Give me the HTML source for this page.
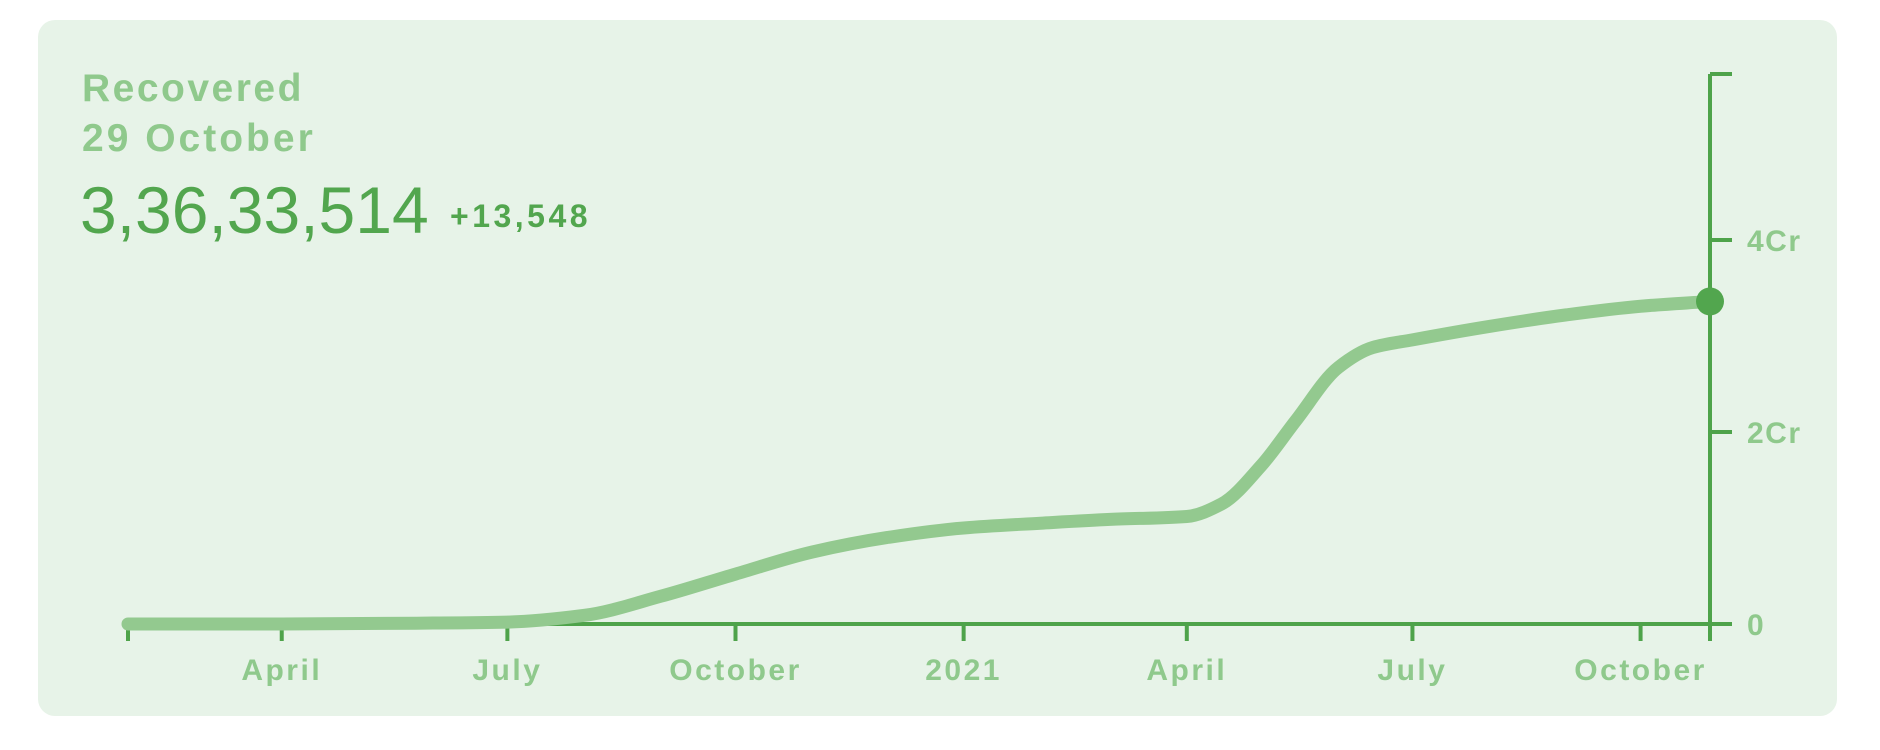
<!DOCTYPE html>
<html><head><meta charset="utf-8">
<style>
html,body{margin:0;padding:0;background:#fff;width:1880px;height:750px;overflow:hidden;font-family:"Liberation Sans",sans-serif;}
.card{position:absolute;left:38px;top:20px;width:1799px;height:696px;background:#e7f3e8;border-radius:17px;}
.t{position:absolute;white-space:nowrap;}
</style></head><body>
<div class="card"></div>
<div class="t" style="left:82px;top:67px;font-size:39px;font-weight:bold;color:#8fc98c;letter-spacing:2.5px;">Recovered</div>
<div class="t" style="left:82px;top:117px;font-size:39px;font-weight:bold;color:#8fc98c;letter-spacing:3px;">29 October</div>
<div class="t" style="left:80px;top:172px;font-size:66px;color:#52a64e;letter-spacing:0px;">3,36,33,514</div>
<div class="t" style="left:450px;top:198px;font-size:32px;font-weight:bold;color:#52a64e;letter-spacing:3.5px;">+13,548</div>
<svg id="chart" width="1880" height="750" style="position:absolute;left:0;top:0"></svg>
<script>
const dates = ["2020-01-30","2020-04-01","2020-06-01","2020-07-01","2020-08-01","2020-09-01","2020-10-01","2020-11-01","2020-12-01","2021-01-01","2021-02-01","2021-03-01","2021-04-01","2021-04-15","2021-05-01","2021-05-15","2021-06-01","2021-06-15","2021-07-01","2021-08-01","2021-09-01","2021-10-01","2021-10-29"];
const values = [0,0,0.01,0.02,0.09,0.29,0.52,0.75,0.9,1.0,1.05,1.09,1.12,1.25,1.65,2.12,2.67,2.88,2.96,3.10,3.22,3.31,3.36];
const xTickDates = ["2020-04-01","2020-07-01","2020-10-01","2021-01-01","2021-04-01","2021-07-01","2021-10-01"];
const xTickLabels = ["April","July","October","2021","April","July","October"];
const yTicks = [0,2,4];
const yTickLabels = ["0","2Cr","4Cr"];

const NS="http://www.w3.org/2000/svg";
const svg=document.getElementById('chart');
const d0=Date.parse("2020-01-30"), d1=Date.parse("2021-10-29");
const X0=128,X1=1710,Y0=624,pxPerCr=96;
const x=d=>X0+(Date.parse(d)-d0)/(d1-d0)*(X1-X0);
const y=v=>Y0-v*pxPerCr;
function mk(tag,attrs){const e=document.createElementNS(NS,tag);for(const k in attrs)e.setAttribute(k,attrs[k]);svg.appendChild(e);return e;}
const AX="#4ea34a",LB="#8fc98c";
let e=mk('line',{x1:X0,y1:Y0,x2:X1,y2:Y0,stroke:AX,'stroke-width':4});


e=mk('line',{x1:X0,y1:Y0,x2:X0,y2:Y0+17,stroke:AX,'stroke-width':4});


xTickDates.forEach((d,i)=>{
  const t=mk('line',{x1:x(d),y1:Y0,x2:x(d),y2:Y0+17,stroke:AX,'stroke-width':4});
  
  
  const l=mk('text',{x:x(d),y:680,'text-anchor':'middle','font-size':30,'font-weight':'bold',fill:LB,'letter-spacing':2.5,'font-family':'Liberation Sans, sans-serif'});
  l.textContent=xTickLabels[i];
  
  
});
e=mk('line',{x1:X1,y1:74,x2:X1,y2:Y0+17,stroke:AX,'stroke-width':4});


e=mk('polyline',{points:`${X1},74 ${X1+22},74`,stroke:AX,'stroke-width':4,fill:'none'});


yTicks.forEach((v,i)=>{
  const t=mk('line',{x1:X1,y1:y(v),x2:X1+22,y2:y(v),stroke:AX,'stroke-width':4});
  
  
  const l=mk('text',{x:1747,y:y(v)+11,'font-size':30,'font-weight':'bold',fill:LB,'letter-spacing':1.5,'font-family':'Liberation Sans, sans-serif'});
  l.textContent=yTickLabels[i];
  
  
});
const pts=dates.map((d,i)=>[x(d),y(values[i])]);
const n=pts.length,dx=[],sl=[],m=[];
for(let i=0;i<n-1;i++){dx[i]=pts[i+1][0]-pts[i][0];sl[i]=(pts[i+1][1]-pts[i][1])/dx[i];}
m[0]=sl[0];m[n-1]=sl[n-2];
for(let i=1;i<n-1;i++){
  if(sl[i-1]*sl[i]<=0)m[i]=0;
  else{const w1=2*dx[i]+dx[i-1],w2=dx[i]+2*dx[i-1];m[i]=(w1+w2)/(w1/sl[i-1]+w2/sl[i]);}
}
let p=`M${pts[0][0]},${pts[0][1]}`;
for(let i=0;i<n-1;i++){
  const h=dx[i]/3;
  p+=` C${pts[i][0]+h},${pts[i][1]+m[i]*h} ${pts[i+1][0]-h},${pts[i+1][1]-m[i+1]*h} ${pts[i+1][0]},${pts[i+1][1]}`;
}
e=mk('path',{d:p,fill:'none',stroke:'#93c98f','stroke-width':13,'stroke-linecap':'round','stroke-linejoin':'round'});


const last=pts[n-1];
e=mk('circle',{cx:last[0],cy:last[1],r:14,fill:'#52a64e'});


</script>
</body></html>
